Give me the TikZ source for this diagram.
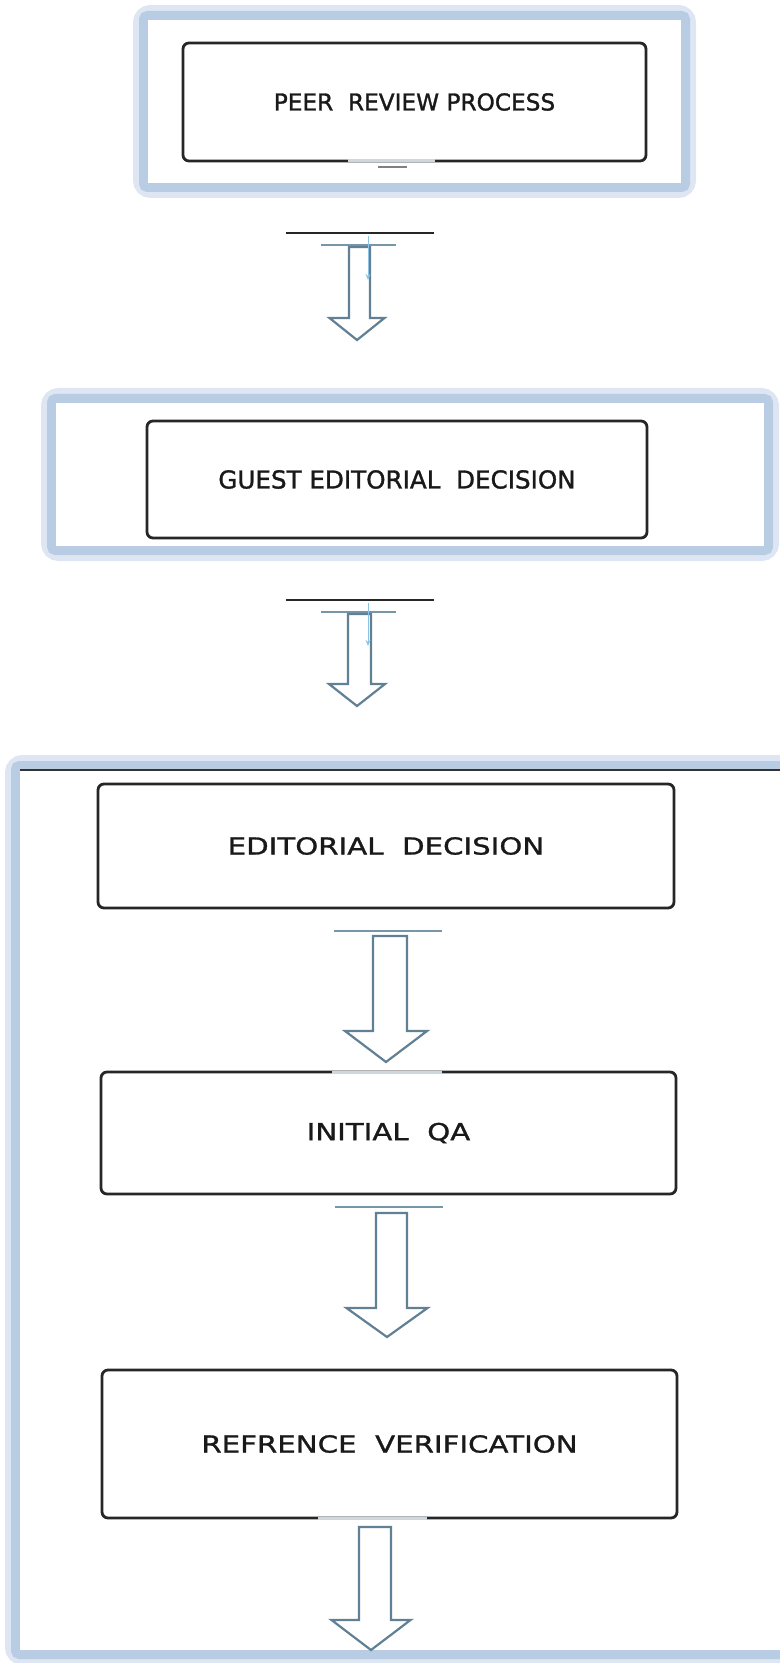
\documentclass[tikz,border=0pt]{standalone}
\usepackage{fontspec}
\setmainfont{DejaVu Sans}
\newfontfamily\boxfont[FakeBold=1.3]{DejaVu Sans}
\newfontfamily\widefont[FakeStretch=1.25,FakeBold=1.2]{DejaVu Sans}
\usetikzlibrary{calc,arrows.meta}

\definecolor{glowmid}{RGB}{184,204,228}
\definecolor{glowlight}{RGB}{221,230,242}
\definecolor{arrowline}{RGB}{98,128,148}
\definecolor{capline}{RGB}{120,150,170}
\definecolor{tinyblue}{RGB}{140,195,230}
\definecolor{gapline}{RGB}{205,215,222}
\definecolor{textdark}{RGB}{25,25,25}

\newcommand{\glowframe}[4]{%
  \draw[glowlight, line width=7.5pt, rounded corners=5pt] (#1-7.5,#2-7.5) rectangle (#3+7.5,#4+7.5);
  \draw[glowmid, line width=4.5pt, rounded corners=2pt] (#1-4.5,#2-4.5) rectangle (#3+4.5,#4+4.5);
  \fill[white] (#1,#2) rectangle (#3,#4);}

\newcommand{\blockarrow}[5]{%
  \draw[arrowline, line width=1.1pt, fill=white] let \p1=(#1), \p2=(#2) in
    (\x1-#3*0.5pt,\y1) -- (\x1+#3*0.5pt,\y1) -- (\x1+#3*0.5pt,\y2+#5*0.5pt)
    -- (\x2+#4*0.5pt,\y2+#5*0.5pt) -- (\x2,\y2) -- (\x2-#4*0.5pt,\y2+#5*0.5pt)
    -- (\x1-#3*0.5pt,\y2+#5*0.5pt) -- cycle;}

\begin{document}
\begin{tikzpicture}[x=0.5pt,y=-0.5pt]

      \useasboundingbox (0,0) rectangle (780,1663);
      \clip (0,0) rectangle (780,1663);

      \glowframe{148}{20}{681}{183}
      \glowframe{56}{403}{764}{546}
      \glowframe{20}{770}{800}{1650}
      \draw[black!80, line width=1pt] (20,770) -- (780,770);

      \begin{scope}[every node/.style={draw=black!85,rounded corners=3pt,line width=1.4pt,inner sep=0pt,text=textdark}]
        \node[minimum width=231.5pt, minimum height=59pt]   (peer)  at (414.5,102)  {\boxfont\fontsize{11.6}{14}\selectfont PEER\ \ REVIEW PROCESS};
        \node[minimum width=250pt,   minimum height=58.5pt] (guest) at (397,479.5)  {\boxfont\fontsize{12.3}{14}\selectfont GUEST EDITORIAL\ \ DECISION};
        \node[minimum width=288pt,   minimum height=62pt]   (edit)  at (386,846)    {\widefont\fontsize{11.7}{14}\selectfont EDITORIAL\ \ DECISION};
        \node[minimum width=287.5pt, minimum height=61pt]   (qa)    at (388.5,1133) {\widefont\fontsize{11.7}{14}\selectfont INITIAL\ \ QA};
        \node[minimum width=287.5pt, minimum height=74pt]   (ref)   at (389.5,1444) {\widefont\fontsize{11.7}{14}\selectfont REFRENCE\ \ VERIFICATION};
      \end{scope}

      \draw[gapline, line width=1.5pt] (348,161)  -- (435,161);
      \draw[gray, line width=0.6pt]    (378,167)  -- (407,167);
      \draw[gapline, line width=1.5pt] (332,1072) -- (442,1072);
      \draw[gapline, line width=1.5pt] (318,1518) -- (427,1518);

      \begin{scope}
        \coordinate (a1s) at (359.5,247);  \coordinate (a1e) at (357,340);
        \coordinate (a2s) at (359.5,614);  \coordinate (a2e) at (357,706);
        \coordinate (a3s) at (390,936);    \coordinate (a3e) at (386,1062);
        \coordinate (a4s) at (391.5,1213); \coordinate (a4e) at (387,1337);
        \coordinate (a5s) at (375,1527);   \coordinate (a5e) at (371,1650);

        \draw[black!85, line width=0.6pt] (286,233) -- (434,233);
        \draw[black!85, line width=0.6pt] (286,600) -- (434,600);
        \draw[capline, line width=0.6pt]  (321,245) -- (396,245);
        \draw[capline, line width=0.6pt]  (321,612) -- (396,612);
        \draw[capline, line width=0.6pt]  (334,931) -- (442,931);
        \draw[capline, line width=0.6pt]  (335,1207) -- (443,1207);

        \blockarrow{a1s}{a1e}{10.5}{27.5}{22}
        \blockarrow{a2s}{a2e}{11.5}{28}{22}
        \blockarrow{a3s}{a3e}{17}{41}{31}
        \blockarrow{a4s}{a4e}{15.5}{40.5}{29}
        \blockarrow{a5s}{a5e}{16}{39.5}{30}

        \draw[tinyblue, line width=0.5pt, -{Stealth[length=3pt,width=2.5pt]}] (368,236) -- (368,280);
        \draw[tinyblue, line width=0.5pt, -{Stealth[length=3pt,width=2.5pt]}] (368,603) -- (368,646);
      \end{scope}

    \end{tikzpicture}
\end{document}
